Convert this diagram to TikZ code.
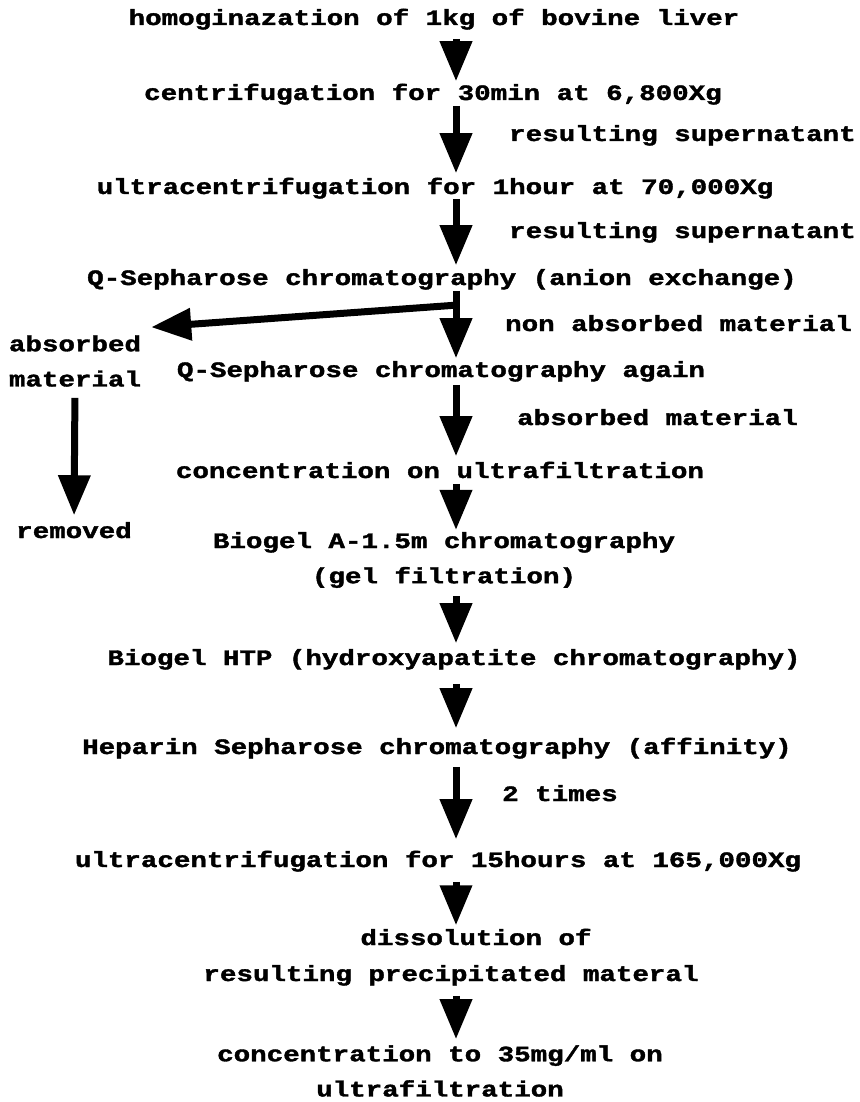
\documentclass[tikz,border=0pt]{standalone}
\usepackage{fontspec}
\newfontfamily\mono{Liberation Mono}[BoldFeatures={FakeBold=1.5}]
\usetikzlibrary{arrows.meta}

\tikzset{
  txt/.style={font=\mono\bfseries\fontsize{27.5}{44}\selectfont, inner sep=0pt, yscale=0.8},
  stage/.style={txt, text height=17pt, text depth=6pt, anchor=base},
  side/.style={txt, anchor=base west},
  flow/.style={-{Triangle[length=40pt,width=31pt]}, line width=7pt, shorten <=1pt, shorten >=5pt},
}

\begin{document}
\begin{tikzpicture}[x=1pt, y=-1pt]
    \useasboundingbox[fill=white] (0,0) rectangle (859,1102);
    \coordinate (spine) at (456,0);%column of the main arrows
    % - Main steps
    \node[stage] (homog) at (434,25) {homoginazation of 1kg of bovine liver};
    \node[stage] (centr) at (433,100) {centrifugation for 30min at 6,800Xg};
    \node[stage] (ultra) at (435,194) {ultracentrifugation for 1hour at 70,000Xg};
    \node[stage] (qsep) at (442,285) {Q-Sepharose chromatography (anion exchange)};
    \node[stage] (qsepb) at (441,377) {Q-Sepharose chromatography again};
    \node[stage] (conc) at (440,478) {concentration on ultrafiltration};
    \node[txt, align=center] (gelf) at (444,560) {Biogel A-1.5m chromatography\\(gel filtration)};
    \node[stage] (htp) at (454,665) {Biogel HTP (hydroxyapatite chromatography)};
    \node[stage] (hep) at (437,754) {Heparin Sepharose chromatography (affinity)};
    \node[stage] (ultrb) at (438,867) {ultracentrifugation for 15hours at 165,000Xg};
    \node[stage] (dissa) at (476,945) {dissolution of};
    \node[stage] (dissb) at (451,981) {resulting precipitated materal};
    \node[txt, align=center] (final) at (440,1071) {concentration to 35mg/ml on\\ultrafiltration};
    % - Side branch
    \node[txt, align=center] (waste) at (75,361) {absorbed\\material};
    \node[stage] (gone) at (74,538) {removed};
    % - Labels next to the arrows
    \node[side] (sup1) at (509,141) {resulting supernatant};
    \node[side] (sup2) at (509,238) {resulting supernatant};
    \node[side] (nonabs) at (505,331) {non absorbed material};
    \node[side] (absmat) at (517,425) {absorbed material};
    \node[side] (twice) at (502,801) {2 times};
    % - Arrows
    \draw[flow, shorten <=9pt] (homog.south -| spine) -- (centr.north -| spine);
    \draw[flow, shorten >=7pt] (centr.south -| spine) -- (ultra.north -| spine);
    \draw[flow, shorten <=0pt, shorten >=6pt] (ultra.south -| spine) -- (qsep.north -| spine);
    \draw[flow] (qsep.south -| spine) -- (qsepb.north -| spine);
    \draw[flow, shorten <=3pt, shorten >=8pt] (qsepb.south -| spine) -- (conc.north -| spine);
    \draw[flow, shorten >=2pt] (conc.south -| spine) -- (gelf.north -| spine);
    \draw[flow, shorten <=8pt, shorten >=8pt] (gelf.south -| spine) -- (htp.north -| spine);
    \draw[flow, shorten <=14pt, shorten >=12pt] (htp.south -| spine) -- (hep.north -| spine);
    \draw[flow, shorten <=8pt, shorten >=14pt] (hep.south -| spine) -- (ultrb.north -| spine);
    \draw[flow, shorten <=10pt, shorten >=6pt] (ultrb.south -| spine) -- (dissa.north -| spine);
    \draw[flow, shorten <=10pt, shorten >=6pt] (dissb.south -| spine) -- (final.north -| spine);
    \coordinate (fork) at (458,305);
    \draw[flow, shorten <=0pt, shorten >=0pt] (fork) -- ([xshift=10pt, yshift=8pt]waste.north east);
    \draw[flow, shorten <=11pt, shorten >=9pt] (waste.south) -- (gone.north);
\end{tikzpicture}
\end{document}
